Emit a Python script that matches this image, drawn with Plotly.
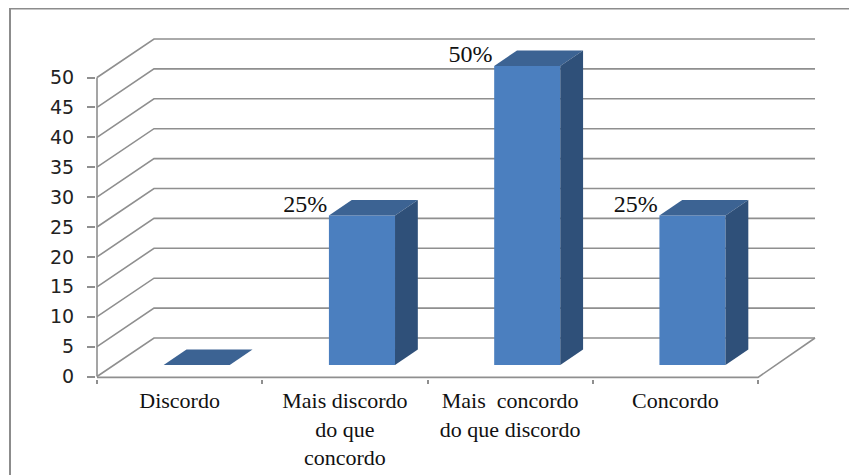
import plotly.graph_objects as go

categories = ["Discordo", "Mais discordo<br>do que<br>concordo", "Mais  concordo<br>do que discordo", "Concordo"]
values = [0, 25, 50, 25]
y_ticks = [0, 5, 10, 15, 20, 25, 30, 35, 40, 45, 50]

PAGE = 8                                 # browser body margin around the figure
W, H = 857 - PAGE, 475 - PAGE
L, R, T, B = 96 - PAGE, 37, 37 - PAGE, 96
PX_X, PX_Y = 165.25, 5.98
DX, DY = 57 / PX_X, 38.5 / PX_Y          # oblique depth of the box, axis units
BAR_W, D0, D1 = 0.4, 0.3, 0.7            # bar width and its depth span
x_lo = -0.5 - 1 / PX_X
x_hi = x_lo + (W - L - R) / PX_X
y_lo = -2.5 / PX_Y
y_hi = y_lo + (H - T - B) / PX_Y

GRID = "#8f8f8f"
FRONT, TOP, SIDE = "#4b7fbf", "#3c6393", "#2f5079"
SERIF = "Liberation Serif"

n = len(categories)
idx = list(range(n))
left, right = -0.5, n - 0.5


def line(xs, ys, width=1.6):
    d = "M" + " L".join(f"{x},{y}" for x, y in zip(xs, ys))
    return dict(type="path", path=d, xref="x", yref="y", layer="below",
                line=dict(color=GRID, width=width))


shapes = []
for t in y_ticks:
    shapes.append(line([left, left + DX, right + DX], [t, t + DY, t + DY]))
shapes.append(line([left, left], [0, y_ticks[-1]]))
shapes.append(line([left, right, right + DX], [-0.15, -0.15, DY]))


def px_x(p):
    return (p - PAGE - L) / (W - L - R)


def px_y(p):
    return 1 - (p - PAGE - T) / (H - T - B)


shapes.append(dict(type="path", xref="paper", yref="paper",
                   path=f"M{px_x(10)},{px_y(480)} L{px_x(10)},{px_y(8.5)} L{px_x(862)},{px_y(8.5)}",
                   line=dict(color="#8c8c8c", width=2)))

fig = go.Figure()
fig.add_trace(go.Bar(x=[i + D0 * DX for i in idx], y=values, base=[D0 * DY] * n, width=BAR_W,
                     marker=dict(color=FRONT, line=dict(width=0)), hoverinfo="skip"))

for i, v in zip(idx, values):
    a = i - BAR_W / 2 + D0 * DX
    b = a + BAR_W
    d = (D1 - D0)
    y0 = D0 * DY
    fig.add_trace(go.Scatter(
        x=[a, b, b + d * DX, a + d * DX, a],
        y=[y0 + v, y0 + v, y0 + v + d * DY, y0 + v + d * DY, y0 + v],
        mode="lines", fill="toself", fillcolor=TOP, line=dict(width=0), hoverinfo="skip"))
    if v > 0:
        fig.add_trace(go.Scatter(
            x=[b, b + d * DX, b + d * DX, b, b],
            y=[y0, y0 + d * DY, y0 + v + d * DY, y0 + v, y0],
            mode="lines", fill="toself", fillcolor=SIDE, line=dict(width=0), hoverinfo="skip"))

fig.add_trace(go.Scatter(
    x=[i - BAR_W / 2 + D0 * DX - 0.01 for i, v in zip(idx, values) if v > 0],
    y=[v + D0 * DY - 0.4 for v in values if v > 0],
    text=[f"{v}%" for v in values if v > 0],
    mode="text", textposition="top left", cliponaxis=False,
    textfont=dict(family=SERIF, size=24, color="#111111"), hoverinfo="skip"))

fig.update_layout(
    width=W, height=H, margin=dict(l=L, r=R, t=T, b=B, autoexpand=False),
    paper_bgcolor="white", plot_bgcolor="white", showlegend=False, shapes=shapes,
    xaxis=dict(range=[x_lo, x_hi], tickmode="array", tickvals=idx, ticktext=categories,
               showgrid=False, zeroline=False, showline=False, ticks="", tickangle=0,
               ticklabelstandoff=6,
               tickfont=dict(family=SERIF, size=22, color="#111111"),
               minor=dict(tickmode="array", tickvals=[i - 0.5 for i in range(n + 1)],
                          ticks="outside", ticklen=4, tickwidth=1.6, tickcolor=GRID, showgrid=False)),
    yaxis=dict(range=[y_lo, y_hi], tickmode="array", tickvals=y_ticks,
               showgrid=False, zeroline=False, showline=False, ticks="outside", ticklen=8,
               tickwidth=1.6, tickcolor=GRID, ticklabelstandoff=9,
               tickfont=dict(family="DejaVu Sans", size=19, color="#222222")),
)
fig.write_html("out.html")
